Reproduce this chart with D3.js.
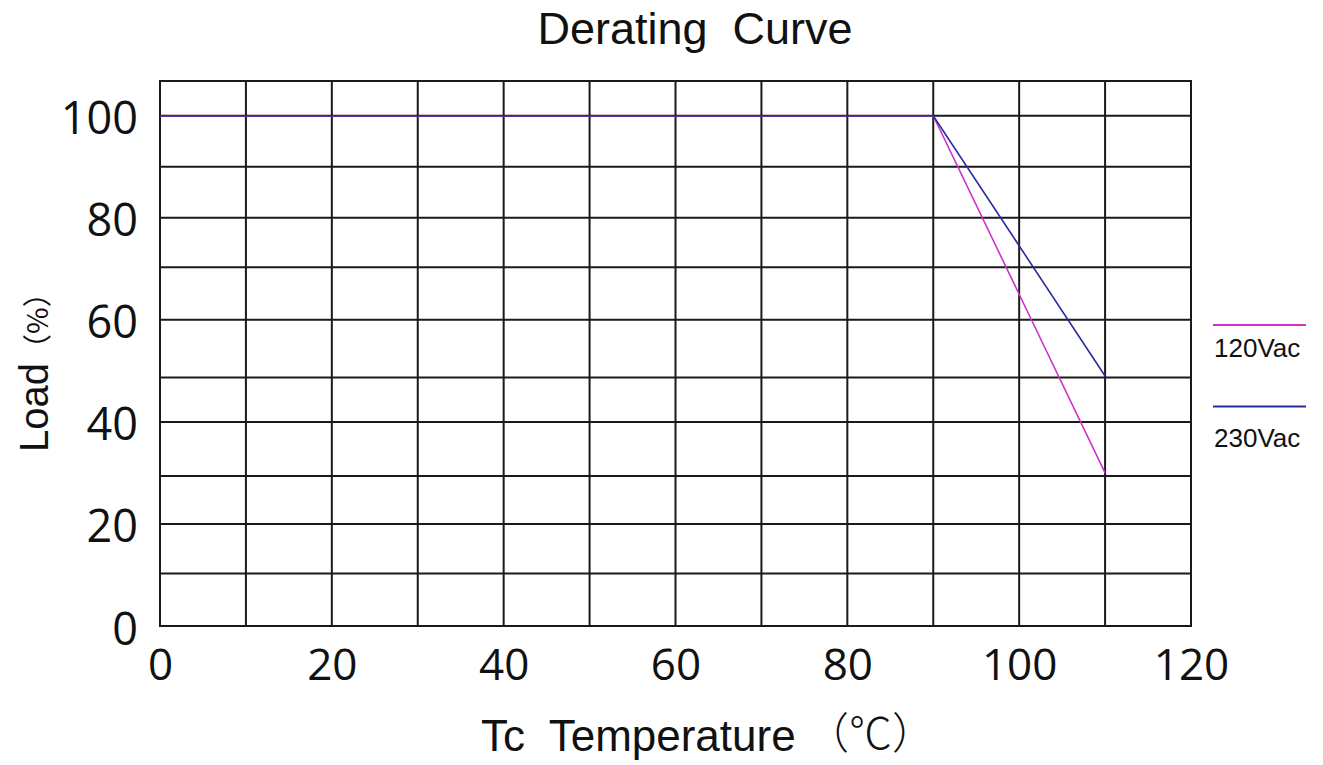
<!DOCTYPE html>
<html>
<head>
<meta charset="utf-8">
<script src="https://cdn.jsdelivr.net/npm/d3@7"></script>
<style>
  body { margin: 0; background: #fff; }
  svg { display: block; }
</style>
</head>
<body>
<svg id="chart" width="1323" height="765"></svg>
<script>
// values
const temps = [0, 90, 110];
const load120 = [100, 100, 30];
const load230 = [100, 100, 49];
const seriesNames = ['120Vac', '230Vac'];
const seriesColors = ['#cc33cc', '#2b2ba0'];

const xTicks = [0, 20, 40, 60, 80, 100, 120];
const yTicks = [0, 20, 40, 60, 80, 100];
// the table behind the curve is hand drawn, rows are not quite even
const xGrid = [0, 10, 20, 30, 40, 50, 60, 70, 80, 90, 100, 110, 120];
const yGrid = [0, 10.3, 20, 29.4, 40, 48.7, 60, 70.3, 80, 90, 100, 106.8];

const svg = d3.select('#chart');
const plotLeft = 160;
const plotRight = 1191;
const plotTop = 81;
const plotBottom = 626;

const x = d3.scaleLinear().domain([0, 120]).range([plotLeft, plotRight]);
const y = d3.scaleLinear().domain([0, d3.max(yGrid)]).range([plotBottom, plotTop]);

svg.append('rect')
  .attr('width', 1323).attr('height', 765).attr('fill', '#fff');

// title
svg.append('text')
  .attr('x', 695)
  .attr('y', 44)
  .attr('text-anchor', 'middle')
  .style('font', '45px "Liberation Sans", Arial, sans-serif')
  .style('white-space', 'pre')
  .attr('fill', '#111')
  .text('Derating  Curve');

// grid
const grid = svg.append('g')
  .attr('stroke', '#1a1a1a')
  .attr('stroke-width', 2);

grid.selectAll('line.v')
  .data(xGrid)
  .join('line')
  .attr('class', 'v')
  .attr('x1', (d) => x(d)).attr('x2', (d) => x(d))
  .attr('y1', y(d3.max(yGrid))).attr('y2', y(0));

grid.selectAll('line.h')
  .data(yGrid)
  .join('line')
  .attr('class', 'h')
  .attr('x1', x(0) - 1).attr('x2', x(120) + 1)
  .attr('y1', (d) => y(d)).attr('y2', (d) => y(d));

// axes (labels only, the table does the lines)
svg.append('g')
  .attr('transform', `translate(${plotLeft},0)`)
  .call(d3.axisLeft(y).tickValues(yTicks).tickSize(0).tickPadding(22).tickFormat(d3.format('d')))
  .call((g) => g.select('.domain').remove())
  .call((g) => g.selectAll('text')
    .attr('dy', '0.4em')
    .attr('fill', '#111')
    .style('font', '45px "Open Sans", "Liberation Sans", sans-serif'));

svg.append('g')
  .attr('transform', `translate(0,${plotBottom})`)
  .call(d3.axisBottom(x).tickValues(xTicks).tickSize(0).tickPadding(23).tickFormat(d3.format('d')))
  .call((g) => g.select('.domain').remove())
  .call((g) => g.selectAll('text')
    .attr('fill', '#111')
    .style('font', '44px "Open Sans", "Liberation Sans", sans-serif'));

// axis titles
svg.append('text')
  .attr('x', 481)
  .attr('y', 751)
  .attr('fill', '#111')
  .style('font', '44px "Liberation Sans", Arial, sans-serif')
  .style('white-space', 'pre')
  .text('Tc  Temperature');

svg.append('text')
  .attr('x', 806)
  .attr('y', 749)
  .attr('fill', '#111')
  .style('font', '300 43px "Noto Sans CJK SC", sans-serif')
  .text('（℃）');

svg.append('text')
  .attr('transform', 'translate(48,452) rotate(-90)')
  .attr('fill', '#111')
  .style('font', '40px "Liberation Sans", Arial, sans-serif')
  .call((t) => t.append('tspan').text('Load'))
  .call((t) => t.append('tspan')
    .style('font-size', '29px')
    .style('font-family', '"Noto Sans CJK SC", sans-serif')
    .text('（%）'));

// curves
const series = [load120, load230];
const line = d3.line()
  .x((d, i) => x(temps[i]))
  .y((d) => y(d));

svg.append('g')
  .selectAll('path')
  .data(series)
  .join('path')
  .attr('d', (d) => line(d))
  .attr('fill', 'none')
  .attr('stroke', (d, i) => seriesColors[i])
  .attr('stroke-width', 1.6);

// legend
const legend = svg.append('g')
  .selectAll('g')
  .data(seriesNames)
  .join('g')
  .attr('transform', (d, i) => `translate(1213,${325 + i * 81.5})`);

legend.append('line')
  .attr('x1', 0).attr('x2', 93)
  .attr('stroke', (d, i) => seriesColors[i])
  .attr('stroke-width', 2);

legend.append('text')
  .attr('x', 1)
  .attr('y', (d, i) => 32 + i * 8)
  .attr('fill', '#111')
  .style('font', '26px "Liberation Sans", Arial, sans-serif')
  .text((d) => d);
</script>
</body>
</html>
